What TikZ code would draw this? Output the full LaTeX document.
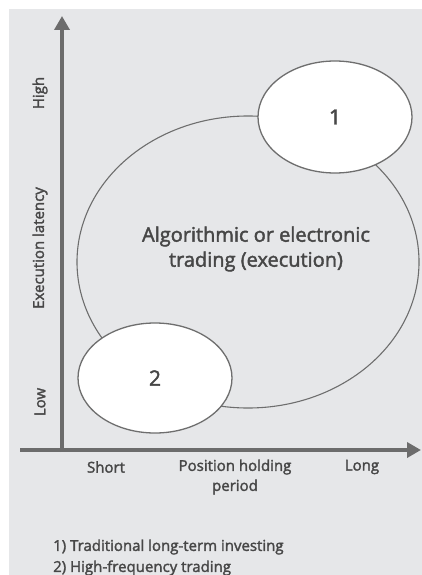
\documentclass[tikz,border=0pt]{standalone}
\usepackage{fontspec}
\setmainfont{Open Sans}[UprightFeatures={FakeBold=2}]
\usetikzlibrary{shapes.geometric,arrows.meta}
\definecolor{bg}{HTML}{E6E7E9}
\definecolor{axisc}{HTML}{6C6C6C}
\definecolor{linec}{HTML}{6E6E6E}
\definecolor{txt}{HTML}{474747}
\tikzset{
  axis/.style={draw=axisc,line width=3.5pt,-{Triangle[length=14pt,width=15pt]}},
  bigell/.style={ellipse,draw=linec,line width=1.1pt},
  smallell/.style={ellipse,draw=linec,line width=1.3pt,fill=white},
  lbl/.style={text=txt,font=\fontsize{15}{18}\selectfont,inner sep=0pt},
  biglbl/.style={text=txt,font=\fontsize{20}{25}\selectfont,align=center,inner sep=0pt},
}
\begin{document}
\begin{tikzpicture}[x=1pt,y=-1pt]
\useasboundingbox (0,0) rectangle (422,575);
\fill[bg] (9,9) rectangle (422,575);
% big ellipse
\node[bigell,minimum width=342pt,minimum height=292pt] (algo) at (248,262) {};
\node[biglbl] (algotxt) at (256,249) {Algorithmic or electronic\\trading (execution)};
% small ellipses
\node[smallell,minimum width=154pt,minimum height=112pt] (e1) at (335,117) {};
\node[lbl,font=\fontsize{21}{24}\selectfont] (n1) at (e1.center) {1};
\node[smallell,minimum width=154pt,minimum height=110pt] (e2) at (155,378) {};
\node[lbl,font=\fontsize{21}{24}\selectfont] (n2) at (e2.center) {2};
% axes
\coordinate (ybot) at (62,452);
\coordinate (ytop) at (62,16);
\coordinate (xl) at (20,450);
\coordinate (xr) at (421,450);
\draw[axis] (ybot) -- (ytop);
\draw[axis] (xl) -- (xr);
% y labels
\node[lbl,rotate=90] (high) at (40,93) {High};
\node[lbl,rotate=90] (lat) at (40,248) {Execution latency};
\node[lbl,rotate=90] (low) at (40,402) {Low};
% x labels
\node[lbl] (short) at (106,467) {Short};
\node[lbl,align=center,font=\fontsize{15}{20}\selectfont] (pos) at (235,477) {Position holding\\period};
\node[lbl] (long) at (362,467) {Long};
% legend
\node[lbl,anchor=west] (leg1) at (53,547) {1) Traditional long-term investing};
\node[lbl,anchor=west] (leg2) at (53,568) {2) High-frequency trading};
\end{tikzpicture}
\end{document}
